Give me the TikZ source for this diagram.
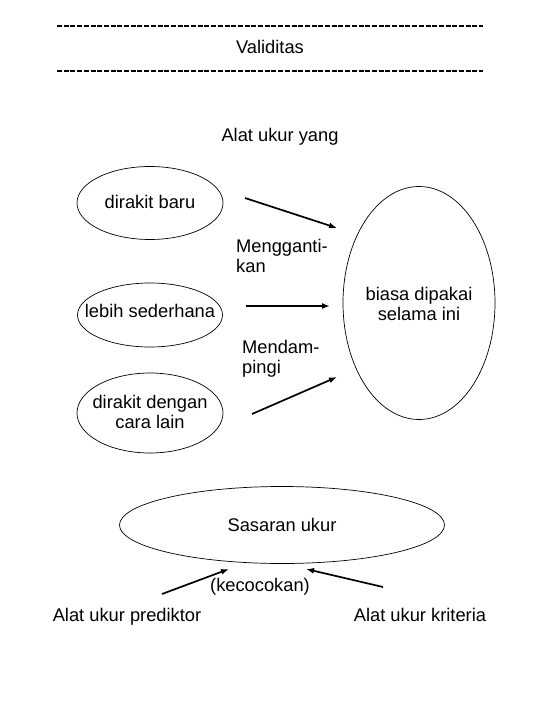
\documentclass[tikz,border=0pt]{standalone}
\usepackage{fontspec}
\setmainfont{Liberation Sans}
\usetikzlibrary{shapes.geometric,arrows.meta}
\begin{document}
\begin{tikzpicture}[x=1pt,y=-1pt,
  txt/.style={font=\fontsize{18.3}{20}\selectfont, inner sep=0pt, align=center},
  oval/.style={ellipse, draw, line width=0.7pt, inner sep=0pt},
  arr/.style={line width=1.7pt, -{Latex[length=8pt,width=6pt]}},
  rule/.style={line width=1.8pt, dash pattern=on 5pt off 1.7pt}]
\useasboundingbox (0,0) rectangle (540,720);
\coordinate (r1a) at (57,26); \coordinate (r1b) at (483,26);
\coordinate (r2a) at (57,71); \coordinate (r2b) at (483,71);
\draw[rule] (r1a) -- (r1b);
\draw[rule] (r2a) -- (r2b);
\node[txt] (title) at (270,47) {Validitas};
\node[txt] (alat) at (280,137) {Alat ukur yang};

\node[oval, minimum width=146pt, minimum height=73pt] (baru) at (150,203) {};
\node[txt] (barut) at (150,202) {dirakit baru};
\node[oval, minimum width=145pt, minimum height=64pt] (seder) at (150,315) {};
\node[txt] (sedert) at (150,311) {lebih sederhana};
\node[oval, minimum width=146pt, minimum height=80pt] (lain) at (150,413) {};
\node[txt] (laint) at (150,412) {dirakit dengan\\cara lain};
\node[oval, minimum width=152pt, minimum height=233pt] (biasa) at (419,303) {};
\node[txt] (biasat) at (419,304) {biasa dipakai\\selama ini};

\node[txt, align=left, anchor=west] (ganti) at (236,256) {Mengganti-\\kan};
\node[txt, align=left, anchor=west] (damp) at (242,359) {Mendam-\\pingi};

\coordinate (a1s) at (245,198); \coordinate (a1e) at (337,228);
\coordinate (a2s) at (246,306); \coordinate (a2e) at (330,306);
\coordinate (a3s) at (252,414); \coordinate (a3e) at (337,377);
\draw[arr] (a1s) -- (a1e);
\draw[arr] (a2s) -- (a2e);
\draw[arr] (a3s) -- (a3e);

\node[oval, minimum width=325pt, minimum height=77pt] (sasaran) at (282,525) {};
\node[txt] (sasarant) at (282,525) {Sasaran ukur};
\node[txt] (cocok) at (260,587) {(kecocokan)};
\node[txt, anchor=base] (pred) at (127,621) {Alat ukur prediktor};
\node[txt, anchor=base] (krit) at (420,621) {Alat ukur kriteria};

\coordinate (b1s) at (162,594); \coordinate (b1e) at (229,569);
\coordinate (b2s) at (383,587); \coordinate (b2e) at (306,569);
\draw[arr] (b1s) -- (b1e);
\draw[arr] (b2s) -- (b2e);
\end{tikzpicture}
\end{document}
